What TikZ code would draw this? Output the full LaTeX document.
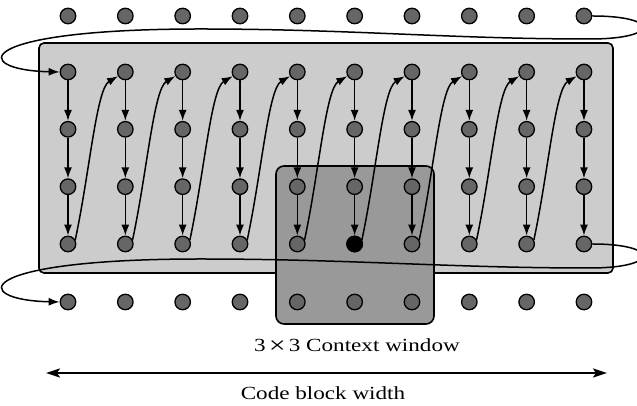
\documentclass[tikz,border=0pt]{standalone}
\usepackage{fontspec}
\setmainfont{Liberation Serif}[FakeStretch=1.25]
\usetikzlibrary{arrows.meta}
\definecolor{dotgray}{HTML}{666666}
\definecolor{lightbox}{HTML}{CCCCCC}
\definecolor{darkbox}{HTML}{999999}
\begin{document}
\begin{tikzpicture}[x=1pt,y=1pt,
  dotnode/.style={circle,draw=black,line width=1.3pt,fill=dotgray,minimum size=15.5pt,inner sep=0pt},
  blackdot/.style={dotnode,fill=black},
  conn/.style={line width=1.5pt,-{Latex[length=11pt,width=8pt]}},
  boxlight/.style={draw=black,line width=1.6pt,fill=lightbox,rounded corners=5pt},
  boxdark/.style={draw=black,line width=1.6pt,fill=darkbox,rounded corners=8pt},
  lbl/.style={font=\fontsize{18.5}{22}\selectfont,anchor=base,inner sep=0pt}]
\useasboundingbox (0,0) rectangle (637,406);
% boxes
\path[boxlight] (39,133) rectangle (613,363);
\path[boxdark] (276,82) rectangle (434,240);
% dots
\foreach \c in {0,...,9} {
  \foreach \r/\y in {0/390,1/334,2/276.7,3/219.3,4/162,5/104} {
    \node[dotnode] (n-\r-\c) at ({68+57.33*\c},\y) {};
  }
}
\node[blackdot] (n-4-5) at ({68+57.33*5},162) {};
% vertical arrows
\foreach \c in {0,...,9} {
  \draw[conn] (n-1-\c) -- (n-2-\c);
  \draw[conn] (n-2-\c) -- (n-3-\c);
  \draw[conn] (n-3-\c) -- (n-4-\c);
}
% diagonal curves
\foreach \c [evaluate=\c as \d using int(\c+1)] in {0,...,8} {
  \draw[conn] (n-4-\c.30) .. controls +(78:70) and +(210:25) .. (n-1-\d.210);
}
% loops
\draw[conn] (n-0-9.east) .. controls (660,390) and (660,367) .. (590,367)
  .. controls (450,367) and (350,377) .. (200,377)
  .. controls (-30,377) and (-30,336) .. (n-1-0.west);
\draw[conn] (n-4-9.east) .. controls (660,162) and (660,138) .. (590,138)
  .. controls (450,138) and (350,147) .. (200,147)
  .. controls (-30,147) and (-30,106) .. (n-5-0.west);
% labels
\node[lbl] (ctx) at (357,54) {3\,\raisebox{-1.6pt}{\fontsize{24}{24}\selectfont ×}\,3 Context window};
\coordinate (wl) at (46,33);
\coordinate (wr) at (607,33);
\draw[line width=2pt,{Stealth[length=14pt,width=9pt,inset=3pt]}-{Stealth[length=14pt,width=9pt,inset=3pt]}] (wl) -- (wr);
\node[lbl] (cbw) at (323,6) {Code block width};
\end{tikzpicture}
\end{document}
